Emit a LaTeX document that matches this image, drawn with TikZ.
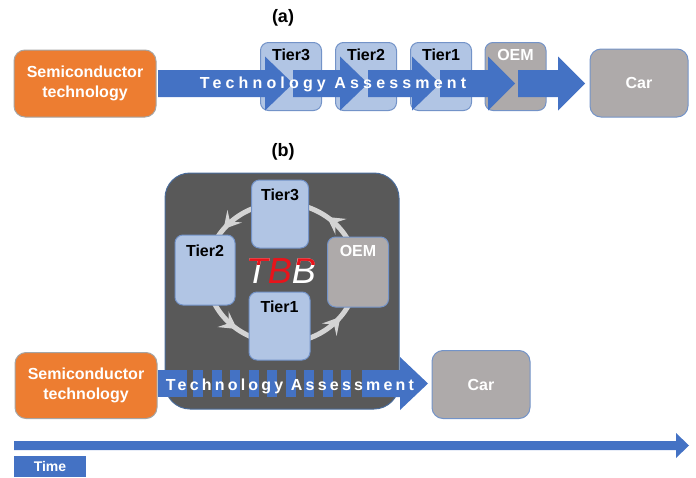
\documentclass[tikz,border=0pt]{standalone}
\usepackage{fontspec}
\setmainfont{Liberation Sans}
\newfontfamily\trackwide[LetterSpace=26,UprightFont={* Bold}]{Liberation Sans}
\newfontfamily\tracknarrow[LetterSpace=20,UprightFont={* Bold}]{Liberation Sans}
\usetikzlibrary{arrows.meta,decorations.markings}

\definecolor{flowblue}{HTML}{4472C4}
\definecolor{semiorange}{HTML}{ED7D31}
\definecolor{semiline}{HTML}{A5A5A5}
\definecolor{tierfill}{HTML}{B1C5E4}
\definecolor{tierline}{HTML}{7393C8}
\definecolor{graybox}{HTML}{AEAAAA}
\definecolor{darkfill}{HTML}{595959}
\definecolor{darkline}{HTML}{4A6C9B}
\definecolor{ringgray}{HTML}{D4D4D4}
\definecolor{tbbred}{HTML}{E8141B}

% block arrow segment: start x, head base x, tip x, centre y, shaft half, head half
\newcommand\flowseg[6]{%
  \fill[flowblue] (#1,#4-#5) -- (#2,#4-#5) -- (#2,#4-#6) -- (#3,#4)
    -- (#2,#4+#6) -- (#2,#4+#5) -- (#1,#4+#5) -- cycle;}

\begin{document}
\begin{tikzpicture}[x=1pt,y=-1pt,
  lbl/.style={font=\bfseries\fontsize{16}{18}\selectfont, inner sep=0pt},
  boxbase/.style={line width=1pt, inner sep=0pt},
  semibox/.style={boxbase, draw=semiline, fill=semiorange, rounded corners=11pt,
    minimum width=142pt, minimum height=67pt, text=white, align=center,
    font=\bfseries\fontsize{16}{20}\selectfont},
  carbox/.style={boxbase, draw=tierline, fill=graybox, rounded corners=11pt,
    minimum width=98pt, minimum height=68pt, text=white,
    font=\bfseries\fontsize{16}{18}\selectfont},
  tierbox/.style={boxbase, draw=tierline, fill=tierfill, rounded corners=8pt,
    minimum width=61pt, minimum height=68pt},
  oembox/.style={tierbox, fill=graybox},
  panel/.style={font=\bfseries\fontsize{18}{20}\selectfont},
  ring/.style={draw=ringgray, line width=5pt, postaction={decorate},
    decoration={markings,
      mark=at position 0.145 with {\arrow[ringgray]{Stealth[length=17pt,width=19pt,inset=7pt]}},
      mark=at position 0.395 with {\arrow[ringgray]{Stealth[length=17pt,width=19pt,inset=7pt]}},
      mark=at position 0.645 with {\arrow[ringgray]{Stealth[length=17pt,width=19pt,inset=7pt]}},
      mark=at position 0.895 with {\arrow[ringgray]{Stealth[length=17pt,width=19pt,inset=7pt]}}}},
]
\useasboundingbox (0,0) rectangle (696,477);

% ---------------- (a) linear chain ----------------
\node[panel] (pa) at (283,18) {(a)};
\node[semibox] (asemi) at (85,83.5) {Semiconductor\\technology};
\node[tierbox] (a3) at (291,76.5) {};
\node[tierbox] (a2) at (366,76.5) {};
\node[tierbox] (a1) at (441,76.5) {};
\node[oembox] (aoem) at (515.5,76.5) {};
\node[carbox] (acar) at (639,83) {Car};

\flowseg{158}{265}{293}{83.5}{13.5}{27}
\flowseg{293}{340}{368}{83.5}{13.5}{27}
\flowseg{368}{412}{440}{83.5}{13.5}{27}
\flowseg{440}{488}{515}{83.5}{13.5}{27}
\flowseg{518}{558}{585}{83.5}{13.5}{27}

\node[lbl, anchor=north] (a3t) at ([yshift=-7pt]a3.north) {Tier3};
\node[lbl, anchor=north] (a2t) at ([yshift=-7pt]a2.north) {Tier2};
\node[lbl, anchor=north] (a1t) at ([yshift=-7pt]a1.north) {Tier1};
\node[lbl, anchor=north, text=white] (aoemt) at ([yshift=-7pt]aoem.north) {OEM};
\node[text=white, font=\trackwide\fontsize{16}{18}\selectfont] (ata) at (333,84) {Technology Assessment};

% ---------------- (b) TBB cycle ----------------
\node[panel] (pb) at (283,152) {(b)};
\node[boxbase, draw=darkline, fill=darkfill, rounded corners=25pt,
  minimum width=234pt, minimum height=236pt] (tbbbox) at (282,291) {};
\draw[ring] (282,273) ellipse [x radius=75pt, y radius=70pt];

\node[tierbox, minimum width=57pt] (b3) at (280,214) {};
\node[tierbox, minimum width=60pt, minimum height=70pt] (b2) at (205,270) {};
\node[oembox, minimum height=70pt] (boem) at (358,272) {};
\node[tierbox] (b1) at (279.5,326) {};
\node[lbl, anchor=north] (b3t) at ([yshift=-9pt]b3.north) {Tier3};
\node[lbl, anchor=north] (b2t) at ([yshift=-10pt]b2.north) {Tier2};
\node[lbl, anchor=north, text=white] (boemt) at ([yshift=-9pt]boem.north) {OEM};
\node[lbl, anchor=north] (b1t) at ([yshift=-9pt]b1.north) {Tier1};

% TBB lettering: white body, red upper strokes
\node[font=\itshape\fontsize{36}{38}\selectfont, inner sep=0pt] (tbb) at (281,271)
  {\textcolor{white}{T}\textcolor{tbbred}{B}\textcolor{white}{B}};
\begin{scope}
  \clip (tbb.north west) rectangle ([yshift=-6pt]tbb.north west -| tbb.north east);
  \node[font=\itshape\fontsize{36}{38}\selectfont, inner sep=0pt, text=tbbred] (tbbtop) at (tbb) {TBB};
\end{scope}

% striped assessment band
\fill[flowblue] (158,370) rectangle (187,397);
\foreach \sx in {193,211.5,230,248.5,267,285.5,304,322.5,341}
  \fill[flowblue] (\sx,370) rectangle (\sx+10,397);
\flowseg{362}{400}{428}{383.5}{13.5}{26.5}
\node[text=white, font=\tracknarrow\fontsize{16}{18}\selectfont] (bta) at (290,386) {Technology Assessment};

\node[semibox, minimum height=66pt] (bsemi) at (86,385.5) {Semiconductor\\technology};
\node[carbox] (bcar) at (481,384.5) {Car};

% ---------------- time axis ----------------
\flowseg{14}{676}{689}{445.5}{4.5}{12.5}
\node[fill=flowblue, minimum width=72pt, minimum height=21pt, inner sep=0pt,
  text=white, font=\bfseries\fontsize{14}{16}\selectfont] (time) at (50,466.5) {Time};
\end{tikzpicture}
\end{document}
